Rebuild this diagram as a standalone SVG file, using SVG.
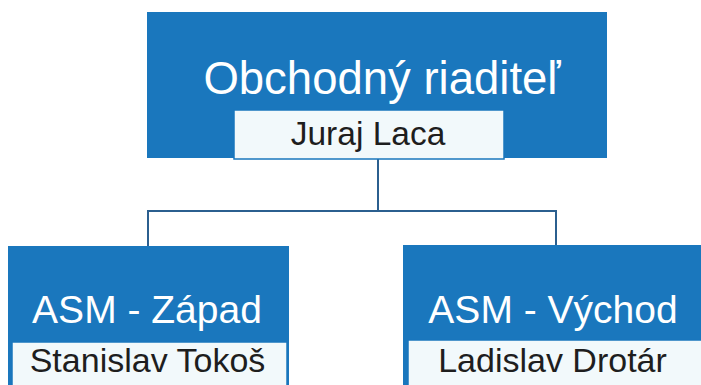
<svg xmlns="http://www.w3.org/2000/svg" width="701" height="385" viewBox="0 0 701 385">
<style>
.box{fill:#1a77bd;}
.lbl{fill:#f2f9fb;stroke:#1a77bd;stroke-width:1.5;}
.title{font-family:"Liberation Sans",Arial,sans-serif;fill:#ffffff;text-anchor:middle;}
.name{font-family:"Liberation Sans",Arial,sans-serif;fill:#1e1e1e;text-anchor:middle;font-size:34px;}
.conn{fill:none;stroke:#2b5f8f;stroke-width:2;}
</style>
<rect width="701" height="385" fill="#ffffff"/>
<g id="connectors">
<path class="conn" d="M378,159 V211 M148,211 H556 M148,210 V246 M556,210 V245"/>
</g>
<g id="node-obchodny">
<rect class="box" x="147" y="12" width="460" height="146"/>
<text class="title" x="382" y="94" font-size="45.5">Obchodný riaditeľ</text>
<rect class="lbl" x="234" y="110" width="270" height="49"/>
<text class="name" x="368" y="145" style="font-size:33.5px">Juraj Laca</text>
</g>
<g id="node-zapad">
<rect class="box" x="8" y="246" width="281" height="145"/>
<text class="title" x="147" y="323" font-size="39">ASM - Západ</text>
<rect class="lbl" x="12" y="342" width="275" height="50"/>
<text class="name" x="147.5" y="372">Stanislav Tokoš</text>
</g>
<g id="node-vychod">
<rect class="box" x="403" y="245" width="305" height="146"/>
<text class="title" x="553" y="323" font-size="39">ASM - Východ</text>
<rect class="lbl" x="408" y="340" width="300" height="52"/>
<text class="name" x="552.5" y="372">Ladislav Drotár</text>
</g>
</svg>
